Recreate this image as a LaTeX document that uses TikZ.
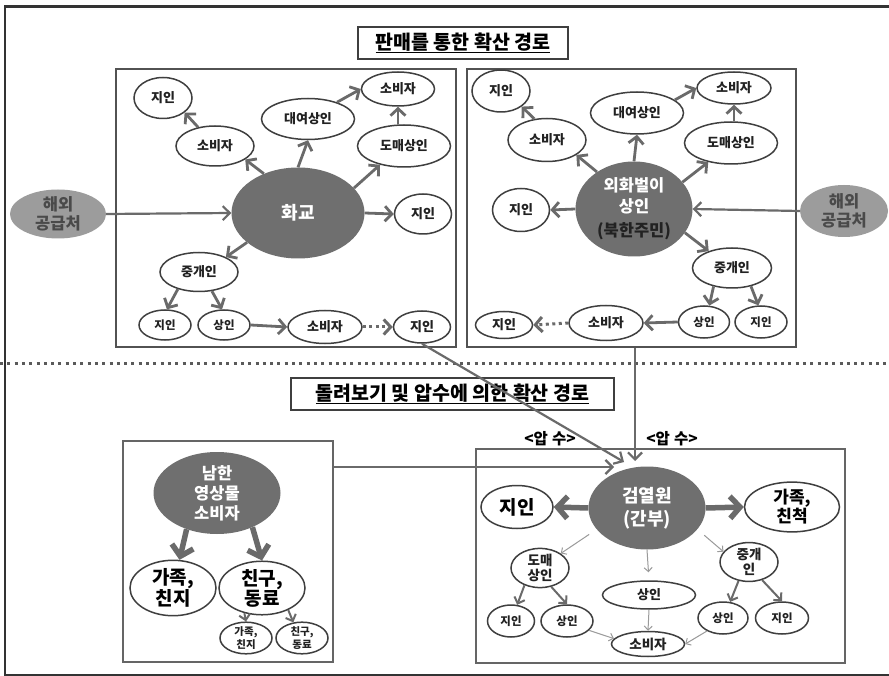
\documentclass[tikz,border=0pt]{standalone}
\usepackage{fontspec}
\setmainfont{Noto Sans CJK KR}
\usetikzlibrary{shapes.geometric,arrows.meta}
\definecolor{bord}{HTML}{3F3F3F}
\definecolor{arrc}{HTML}{6A6A6A}
\definecolor{darkf}{HTML}{6F6F6F}
\definecolor{extf}{HTML}{9C9C9C}
\definecolor{extt}{HTML}{4A4A4A}
\definecolor{txt}{HTML}{222222}
\definecolor{lite}{HTML}{9A9A9A}
\newcommand\fsz[2]{\fontsize{#1pt}{#2pt}\selectfont\bfseries}
\tikzset{
  ell/.style={ellipse, draw=bord, line width=1.5pt, fill=white, inner sep=0pt, text=txt, align=center, font=\fsz{13}{15}},
  darkell/.style={ellipse, fill=darkf, inner sep=0pt, text=white, align=center},
  extell/.style={ellipse, fill=extf, inner sep=0pt, text=extt, align=center, font=\fsz{16.5}{19}},
  panel/.style={draw=#1, line width=2pt, inner sep=0pt},
  panel/.default={bord!90},
  titlebox/.style={draw=bord, line width=1.5pt, inner sep=0pt, text=black, font=\fsz{19.5}{21}},
  arr/.style={draw=arrc, line width=2.8pt, -{Straight Barb[length=7pt,width=15pt]}},
  arrS/.style={draw=arrc, line width=2.2pt, -{Straight Barb[length=7pt,width=14pt]}},
  arrD/.style={draw=arrc, line width=3pt, dash pattern=on 3pt off 3.5pt, -{Straight Barb[length=7pt,width=15pt]}},
  arrT/.style={draw=arrc, line width=5.5pt, -{Straight Barb[length=10pt,width=22pt]}},
  arrM/.style={draw=arrc, line width=2pt, -{Straight Barb[length=5.5pt,width=11pt]}},
  arrL/.style={draw=lite, line width=1pt, -{Straight Barb[length=4pt,width=8pt]}},
  sep/.style={draw=arrc!85!black, line width=3pt, dash pattern=on 3pt off 4.3pt},
  lbl/.style={inner sep=0pt, text=black, font=\fsz{15.5}{17}}
}
\begin{document}
\begin{tikzpicture}[x=1pt,y=-1pt]
\useasboundingbox (0,0) rectangle (889,676);
\fill[white] (0,0) rectangle (889,676);
% outer frame
\draw[draw=black!80, line width=2.5pt] (889,6.5) -- (5,6.5) -- (5,675) -- (889,675);
% separator
\draw[sep] (0,363) -- (889,363);

% titles
\node[titlebox, minimum width=210pt, minimum height=32pt] (t1) at (463,43) {\underline{판매를 통한 확산 경로}};
\node[titlebox, minimum width=323pt, minimum height=32pt] (t2) at (452.5,394) {\underline{돌려보기 및 압수에 의한 확산 경로}};

% panels
\node[panel, minimum width=340pt, minimum height=278pt] (pA) at (286,208) {};
\node[panel, minimum width=329pt, minimum height=278pt] (pB) at (631.5,208) {};
\node[panel={bord!80}, line width=1.5pt, minimum width=210pt, minimum height=221pt] (pC) at (228,551.5) {};
\node[panel={bord!80}, line width=1.5pt, minimum width=369pt, minimum height=214pt] (pD) at (660.5,556) {};

% ---- top-left panel
\node[ell, minimum width=58pt, minimum height=41pt] (aJ1) at (163,98) {지인};
\node[ell, minimum width=78pt, minimum height=40pt] (aS1) at (215,146) {소비자};
\node[ell, minimum width=93pt, minimum height=41pt] (aD) at (308,119) {대여상인};
\node[ell, minimum width=73pt, minimum height=34pt] (aS2) at (398,89) {소비자};
\node[ell, minimum width=93pt, minimum height=42pt] (aW) at (404,146) {도매상인};
\node[darkell, minimum width=133pt, minimum height=91pt, font=\fsz{18}{20}] (aH) at (298,213) {화교};
\node[ell, minimum width=57pt, minimum height=40pt] (aJ2) at (423,214) {지인};
\node[extell, minimum width=96pt, minimum height=49pt] (aX) at (58,214) {해외\\공급처};
\node[ell, minimum width=78pt, minimum height=39pt] (aM) at (199,272) {중개인};
\node[ell, minimum width=52pt, minimum height=30pt, font=\fsz{11.5}{14}] (aJ3) at (165,325) {지인};
\node[ell, minimum width=52pt, minimum height=30pt, font=\fsz{11.5}{14}] (aSI) at (224,325) {상인};
\node[ell, minimum width=74pt, minimum height=33pt] (aS3) at (325,327) {소비자};
\node[ell, minimum width=57pt, minimum height=32pt] (aJ4) at (422,327) {지인};

\draw[arrS] (aX.east) -- (aH.west);
\draw[arr] (aH.131) -- (aS1.336);
\draw[arr] (aH.north) -- (aD.south);
\draw[arr] (aH.24) -- (aW.218);
\draw[arr] (aH.east) -- (aJ2.west);
\draw[arr] (aH.210) -- (aM.29);
\draw[arr] (aS1.132) -- (aJ1.326);
\draw[arr] (aD.30) -- (aS2.west);
\draw[arr] (aS2 |- aW.north) -- (aS2.south);
\draw[arr] (aM.219) -- (aJ3.83);
\draw[arr] (aM.304) -- (aSI.97);
\draw[arr] (aSI.east) -- (aS3.west);
\draw[arrD] (aS3.east) -- (aJ4.west);

% ---- top-right panel
\node[ell, minimum width=58pt, minimum height=42pt] (bJ1) at (501,91) {지인};
\node[ell, minimum width=78pt, minimum height=43pt] (bS1) at (547,140) {소비자};
\node[ell, minimum width=93pt, minimum height=42pt] (bD) at (637,113) {대여상인};
\node[ell, minimum width=74pt, minimum height=32pt] (bS2) at (734,88) {소비자};
\node[ell, minimum width=93pt, minimum height=42pt] (bW) at (731,143) {도매상인};
\node[ell, minimum width=57pt, minimum height=43pt] (bJ2) at (521,210) {지인};
\node[darkell, minimum width=117pt, minimum height=95pt, font=\fsz{16.5}{21}] (bH) at (634,209) {외화벌이\\상인\\[3pt]{\color{txt}(북한주민)}};
\node[extell, minimum width=88pt, minimum height=52pt] (bX) at (844,211) {해외\\공급처};
\node[ell, minimum width=79pt, minimum height=40pt] (bM) at (732,268) {중개인};
\node[ell, minimum width=51pt, minimum height=32pt, font=\fsz{11.5}{14}] (bSI) at (704,322) {상인};
\node[ell, minimum width=52pt, minimum height=32pt, font=\fsz{11.5}{14}] (bJ3) at (761,322) {지인};
\node[ell, minimum width=74pt, minimum height=35pt] (bS3) at (606,323) {소비자};
\node[ell, minimum width=57pt, minimum height=27pt] (bJ4) at (504,325) {지인};

\draw[arrS] (bX.west) -- (bH.east);
\draw[arr] (bH.135) -- (bS1.333);
\draw[arr] (bH.north) -- (bD.south);
\draw[arr] (bH.29) -- (bW.220);
\draw[arr] (bH.west) -- (bJ2.east);
\draw[arr] (bH.335) -- (bM.144);
\draw[arr] (bS1.121) -- (bJ1.323);
\draw[arr] (bD.19) -- (bS2.west);
\draw[arr] (bS2 |- bW.north) -- (bS2.south);
\draw[arr] (bM.225) -- (bSI.72);
\draw[arr] (bM.316) -- (bJ3.99);
\draw[arr] (bSI.west) -- (bS3.east);
\draw[arrD] (bS3.west) -- (bJ4.east);

% ---- bottom-left panel
\node[darkell, minimum width=127pt, minimum height=82pt, font=\fsz{16.5}{20}] (cH) at (217,493) {남한\\영상물\\소비자};
\node[ell, minimum width=86pt, minimum height=37pt, font=\fsz{19}{20}, text=black] (cF) at (173,588) {가족,\\친지};
\node[ell, minimum width=86pt, minimum height=37pt, font=\fsz{19}{20}, text=black] (cR) at (262,588) {친구,\\동료};
\node[ell, minimum width=52pt, minimum height=27pt, font=\fsz{10.5}{12.5}] (cF2) at (246,638) {가족,\\친지};
\node[ell, minimum width=52pt, minimum height=27pt, font=\fsz{10.5}{12.5}] (cR2) at (302,638) {친구,\\동료};
\draw[arrT] (cH.230) -- (cF.77);
\draw[arrT] (cH.316) -- (cR.north);
\draw[arrM] (cR.235) -- (cF2.north);
\draw[arrM] (cR.320) -- (cR2.119);

% ---- bottom-right panel
\node[darkell, minimum width=117pt, minimum height=83pt, font=\fsz{18}{23}] (dH) at (647,508) {검열원\\(간부)};
\node[ell, minimum width=72pt, minimum height=43pt, font=\fsz{19}{20}, text=black] (dJ) at (517,507) {지인};
\node[ell, minimum width=95pt, minimum height=38pt, font=\fsz{17}{18}, text=black] (dF) at (792,507) {가족,\\친척};
\node[ell, minimum width=58pt, minimum height=37pt, font=\fsz{13.5}{15}] (dW) at (540,568) {도매\\상인};
\node[ell, minimum width=93pt, minimum height=28pt, font=\fsz{13}{14}] (dS) at (649,595) {상인};
\node[ell, minimum width=58pt, minimum height=35pt, font=\fsz{13.5}{15}] (dM) at (749,562) {중개\\인};
\node[ell, minimum width=47pt, minimum height=32pt, font=\fsz{11.5}{13}] (dJ2) at (511,621) {지인};
\node[ell, minimum width=52pt, minimum height=32pt, font=\fsz{11.5}{13}] (dS2) at (567,621) {상인};
\node[ell, minimum width=73pt, minimum height=25pt, font=\fsz{13.5}{15}] (dC) at (648,644) {소비자};
\node[ell, minimum width=50pt, minimum height=32pt, font=\fsz{11.5}{13}] (dS3) at (723,618) {상인};
\node[ell, minimum width=53pt, minimum height=32pt, font=\fsz{11.5}{13}] (dJ3) at (782,618) {지인};

\draw[arrT] (dH.west) -- (dJ.east);
\draw[arrT] (dH.east) -- (dF.west);
\draw[arrL, shorten <=9pt] (dH.203) -- (dW.35);
\draw[arrL, shorten >=8pt] (dH.south) -- (dS.north);
\draw[arrL, shorten <=9pt] (dH.337) -- (dM.158);
\draw[arrM] (dW.228) -- (dJ2.69);
\draw[arrM] (dW.301) -- (dS2.north);
\draw[arrM] (dM.241) -- (dS3.66);
\draw[arrM] (dM.306) -- (dJ3.north);
\draw[arrL] (dS2.337) -- (dC.171);
\draw[arrL] (dS.south) -- (dC.north);
\draw[arrL] (dS3.219) -- (dC.east);

% labels
\node[lbl] (l1) at (550,439) {<압\hspace{4pt}수>};
\node[lbl] (l2) at (672,439) {<압\hspace{4pt}수>};

% links between sections
\coordinate (eDiag) at (624,462);
\coordinate (eVert) at (635,461);
\coordinate (eHor) at (614,467);
\draw[arrS] (aJ4.south) -- (eDiag);
\draw[arrS] (pB.south -| eVert) -- (eVert);
\draw[arrS] (pC.east |- eHor) -- (eHor);
\end{tikzpicture}
\end{document}
